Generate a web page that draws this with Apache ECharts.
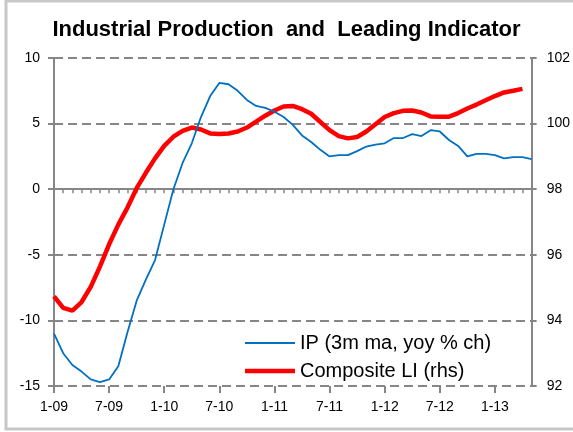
<!DOCTYPE html>
<html>
<head>
<meta charset="utf-8">
<script src="https://cdn.jsdelivr.net/npm/echarts@6/dist/echarts.min.js"></script>
<style>
  html, body { margin: 0; padding: 0; background: #fff; }
  #chart { width: 573px; height: 432px; }
</style>
</head>
<body>
<div id="chart"></div>
<script>
// monthly, 1-09 .. 5-13
const months = [];
for (let y = 9; y <= 13; y++) {
    for (let m = 1; m <= 12; m++) {
        if (y === 13 && m > 5) break;
        months.push(m + '-' + (y < 10 ? '0' + y : y));
    }
}

// IP, 3m moving average, yoy % change (left axis)
const ipValues = [
    -11.0, -12.5, -13.4, -13.9, -14.5, -14.7, -14.5, -13.5, -10.9, -8.5, -6.9, -5.4,
    -2.7, 0.0, 2.0, 3.5, 5.5, 7.1, 8.1, 8.0, 7.5, 6.8, 6.35, 6.2,
    5.9, 5.5, 4.9, 4.1, 3.6, 3.0, 2.5, 2.6, 2.6, 2.9, 3.25, 3.4,
    3.5, 3.9, 3.9, 4.2, 4.05, 4.5, 4.4, 3.75, 3.3, 2.5, 2.7, 2.7,
    2.6, 2.35, 2.45, 2.45, 2.3
];

// Composite leading indicator (right axis)
const liValues = [
    94.73, 94.38, 94.30, 94.56, 95.02, 95.64, 96.32, 96.92, 97.44, 98.03, 98.50, 98.94,
    99.32, 99.60, 99.78, 99.88, 99.82, 99.70, 99.68, 99.70, 99.76, 99.88, 100.06, 100.24,
    100.40, 100.52, 100.54, 100.44, 100.30, 100.05, 99.80, 99.62, 99.55, 99.59, 99.76, 99.98,
    100.20, 100.32, 100.39, 100.40, 100.34, 100.22, 100.21, 100.21, 100.32, 100.46, 100.58, 100.71,
    100.84, 100.95, 101.00, 101.06
];

const seriesNames = ['IP (3m ma, yoy % ch)', 'Composite LI (rhs)'];

const axisGray = '#868686';
const labelFont = { color: '#000', fontFamily: 'Liberation Sans, Arial', fontSize: 14 };

const chart = echarts.init(document.getElementById('chart'));

chart.setOption({
    animation: false,
    backgroundColor: '#fff',
    title: {
        text: 'Industrial Production  and  Leading Indicator',
        left: 'center',
        top: 14,
        textStyle: { fontFamily: 'Liberation Sans, Arial', fontSize: 22, fontWeight: 'bold', color: '#000' }
    },
    graphic: [{
        type: 'rect',
        shape: { x: 6, y: 1, width: 580, height: 428 },
        style: { fill: 'none', stroke: '#c8c8c8', lineWidth: 3 },
        silent: true
    }],
    grid: { left: 54, right: 41, top: 58, bottom: 46 },
    legend: {
        orient: 'vertical',
        left: 240,
        top: 328,
        itemWidth: 50,
        itemHeight: 12,
        itemGap: 8,
        symbolKeepAspect: true,
        textStyle: { fontFamily: 'Liberation Sans, Arial', fontSize: 20, color: '#000', lineHeight: 20 },
        data: [
            { name: seriesNames[0], icon: 'path://M0,0H50V2H0Z' },
            { name: seriesNames[1], icon: 'path://M0,0H50V4.5H0Z' }
        ]
    },
    xAxis: [{
        type: 'category',
        data: months,
        boundaryGap: false,
        axisLine: { lineStyle: { color: axisGray, width: 2 } },
        axisTick: { interval: 0, length: 4, lineStyle: { color: axisGray, width: 1.5 } },
        axisLabel: Object.assign({ interval: 5, margin: 14 }, labelFont),
        splitLine: { show: false }
    }, {
        // longer ticks every 6 months
        type: 'category',
        data: months,
        boundaryGap: false,
        position: 'bottom',
        axisLine: { show: false },
        axisTick: { interval: 5, length: 7, lineStyle: { color: axisGray, width: 2 } },
        axisLabel: { show: false },
        splitLine: { show: false }
    }],
    yAxis: [{
        type: 'value',
        min: -15,
        max: 10,
        interval: 5,
        axisLine: { show: true, lineStyle: { color: axisGray, width: 2 } },
        axisTick: { show: true, length: 6, lineStyle: { color: axisGray, width: 2 } },
        axisLabel: Object.assign({ margin: 14 }, labelFont),
        splitLine: { show: true, lineStyle: { color: axisGray, width: 2, type: [9, 5] } }
    }, {
        type: 'value',
        position: 'right',
        min: 92,
        max: 102,
        interval: 2,
        axisLine: { show: true, lineStyle: { color: axisGray, width: 2 } },
        axisTick: { show: true, length: 5, lineStyle: { color: axisGray, width: 2 } },
        axisLabel: Object.assign({ margin: 15 }, labelFont),
        splitLine: { show: false }
    }],
    series: [{
        name: seriesNames[0],
        type: 'line',
        data: ipValues,
        yAxisIndex: 0,
        symbol: 'none',
        lineStyle: { color: '#0070c0', width: 1.8 },
        itemStyle: { color: '#0070c0' },
        z: 3
    }, {
        name: seriesNames[1],
        type: 'line',
        data: liValues,
        yAxisIndex: 1,
        symbol: 'none',
        lineStyle: { color: '#ff0000', width: 4.5 },
        itemStyle: { color: '#ff0000' },
        z: 2
    }]
});
</script>
</body>
</html>
